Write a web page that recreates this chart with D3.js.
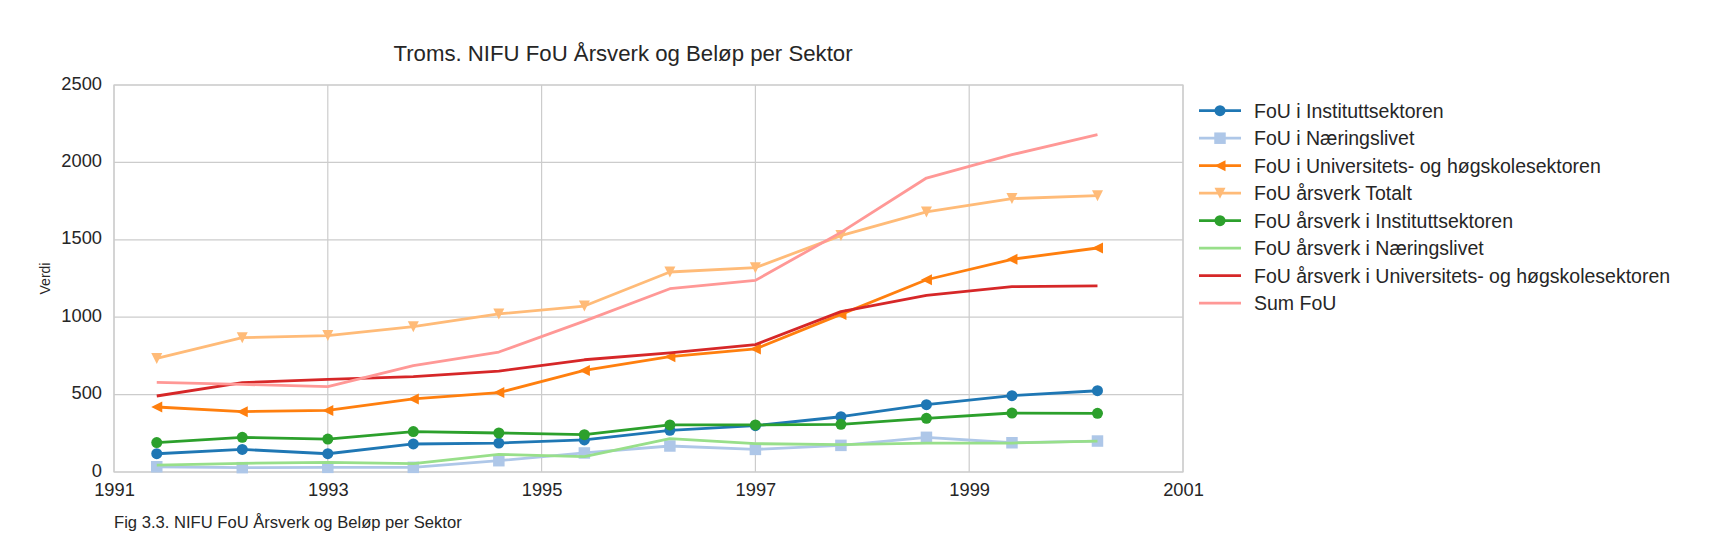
<!DOCTYPE html>
<html>
<head>
<meta charset="utf-8">
<script src="https://cdnjs.cloudflare.com/ajax/libs/d3/7.8.5/d3.min.js"></script>
<style>
body { margin: 0; background: #fff; }
text { font-family: "Liberation Sans", Arial, sans-serif; fill: #262626; }
</style>
</head>
<body>
<div class="chart-wrapper"></div>
<script>

// x position of each observation (as plotted on the year axis)
const years = [1991.4, 1992.2, 1993.0, 1993.8, 1994.6, 1995.4, 1996.2, 1997.0, 1997.8, 1998.6, 1999.4, 2000.2]

const fouInstitutt = [118, 146, 118, 181, 187, 207, 269, 299, 357, 435, 493, 525]
const fouNaering = [34, 28, 30, 30, 73, 123, 168, 146, 172, 224, 189, 200]
const fouUniv = [420, 390, 398, 472, 513, 656, 745, 795, 1018, 1242, 1374, 1447]
const aarsverkTotalt = [734, 868, 881, 939, 1021, 1072, 1292, 1320, 1527, 1680, 1766, 1785]
const aarsverkInstitutt = [190, 224, 213, 261, 252, 241, 304, 304, 308, 347, 381, 379]
const aarsverkNaering = [45, 56, 62, 54, 114, 99, 215, 183, 177, 187, 187, 200]
const aarsverkUniv = [491, 577, 599, 616, 652, 725, 769, 823, 1036, 1141, 1197, 1202]
const sumFou = [579, 566, 551, 687, 775, 975, 1184, 1238, 1548, 1899, 2050, 2179]

const seriesNames = [
"FoU i Instituttsektoren",
"FoU i Næringslivet",
"FoU i Universitets- og høgskolesektoren",
"FoU årsverk Totalt",
"FoU årsverk i Instituttsektoren",
"FoU årsverk i Næringslivet",
"FoU årsverk i Universitets- og høgskolesektoren",
"Sum FoU"]

const seriesValues = [fouInstitutt, fouNaering, fouUniv, aarsverkTotalt, aarsverkInstitutt, aarsverkNaering, aarsverkUniv, sumFou]
const seriesColors = ['#1f77b4', '#aec7e8', '#ff7f0e', '#ffbb78', '#2ca02c', '#98df8a', '#d62728', '#ff9896']
const seriesMarkers = ['circle', 'square', 'left', 'down', 'circle', null, null, null]

const xTicks = [1991, 1993, 1995, 1997, 1999, 2001]
const yTicks = [0, 500, 1000, 1500, 2000, 2500]

const title = "Troms. NIFU FoU Årsverk og Beløp per Sektor"
const caption = "Fig 3.3. NIFU FoU Årsverk og Beløp per Sektor"
const yLabel = "Verdi"

let width = 1718
let height = 540

let plot = {left: 114, right: 1183, top: 85, bottom: 472}

let svg = d3.select(".chart-wrapper").append('svg')
.attr('width', width)
.attr('height', height)

let x = d3.scaleLinear()
.domain([1991, 2001])
.range([plot.left, plot.right])

let y = d3.scaleLinear()
.domain([0, 2500])
.range([plot.bottom, plot.top])

// marker shapes, bbox centred on the point like matplotlib does
const markerPath = (type, s) => {
	let h = s / 2
	if(type == 'circle') return d3.symbol(d3.symbolCircle, Math.PI * h * h)()
	if(type == 'square') return `M${-h},${-h}H${h}V${h}H${-h}Z`
	if(type == 'left') return `M${-h},0L${h},${-h}L${h},${h}Z`
	if(type == 'down') return `M${-h},${-h}L${h},${-h}L0,${h}Z`
	return null
}

const markerSize = type => type == 'square' ? 11.5 : 11

// grid
svg.append('g')
.selectAll('line')
.data(yTicks)
.enter()
.append('line')
.attr('x1', plot.left)
.attr('x2', plot.right)
.attr('y1', d => y(d))
.attr('y2', d => y(d))
.style('stroke', '#cccccc')
.style('stroke-width', 1.2)

svg.append('g')
.selectAll('line')
.data(xTicks)
.enter()
.append('line')
.attr('x1', d => x(d))
.attr('x2', d => x(d))
.attr('y1', plot.top)
.attr('y2', plot.bottom)
.style('stroke', '#cccccc')
.style('stroke-width', 1.2)

svg.append('rect')
.attr('x', plot.left)
.attr('y', plot.top)
.attr('width', plot.right - plot.left)
.attr('height', plot.bottom - plot.top)
.style('fill', 'none')
.style('stroke', '#cccccc')
.style('stroke-width', 1.2)

// axes, tick labels only
let xAxis = svg.append('g')
.attr('transform', `translate(0,${plot.bottom})`)
.call(d3.axisBottom(x).tickValues(xTicks).tickFormat(d3.format('d')).tickSize(0).tickPadding(11))

let yAxis = svg.append('g')
.attr('transform', `translate(${plot.left},0)`)
.call(d3.axisLeft(y).tickValues(yTicks).tickFormat(d3.format('d')).tickSize(0).tickPadding(12))

xAxis.select('.domain').remove()
yAxis.select('.domain').remove()

xAxis.selectAll('text')
.style('font-size', '18.3px')
.style('fill', '#262626')
.attr('font-family', null)

yAxis.selectAll('text')
.attr('dy', '0.22em')
.style('font-size', '18.3px')
.style('fill', '#262626')
.attr('font-family', null)

// lines
let line = d3.line()
.x((d, i) => x(years[i]))
.y(d => y(d))

seriesValues.map((values, s) => {

	svg.append('path')
	.datum(values)
	.attr('d', line)
	.style('fill', 'none')
	.style('stroke', seriesColors[s])
	.style('stroke-width', 2.8)
	.style('stroke-linejoin', 'round')

	if(seriesMarkers[s])
	{
		svg.append('g')
		.selectAll('path')
		.data(values)
		.enter()
		.append('path')
		.attr('d', markerPath(seriesMarkers[s], markerSize(seriesMarkers[s])))
		.attr('transform', (d, i) => `translate(${x(years[i])},${y(d)})`)
		.style('fill', seriesColors[s])
	}
})

// legend
let legend = svg.append('g')
.attr('transform', 'translate(1199,110.7)')

let rows = legend.selectAll('g')
.data(seriesNames)
.enter()
.append('g')
.attr('transform', (d, i) => `translate(0,${i * 27.5})`)

rows.append('line')
.attr('x1', 0)
.attr('x2', 42)
.style('stroke', (d, i) => seriesColors[i])
.style('stroke-width', 2.8)

rows.filter((d, i) => seriesMarkers[i])
.append('path')
.attr('d', d => markerPath(seriesMarkers[seriesNames.indexOf(d)], markerSize(seriesMarkers[seriesNames.indexOf(d)])))
.attr('transform', 'translate(21,0)')
.style('fill', d => seriesColors[seriesNames.indexOf(d)])

rows.append('text')
.attr('x', 55)
.attr('dy', '0.35em')
.style('font-size', '19.5px')
.text(d => d)

// texts
svg.append('text')
.attr('x', 623)
.attr('y', 60.5)
.attr('text-anchor', 'middle')
.style('font-size', '22.2px')
.text(title)

svg.append('text')
.attr('transform', `translate(45,${(plot.top + plot.bottom) / 2}) rotate(-90)`)
.attr('text-anchor', 'middle')
.attr('dy', '0.35em')
.style('font-size', '14px')
.text(yLabel)

svg.append('text')
.attr('x', 114)
.attr('y', 528)
.style('font-size', '16.6px')
.text(caption)

</script>
</body>
</html>
